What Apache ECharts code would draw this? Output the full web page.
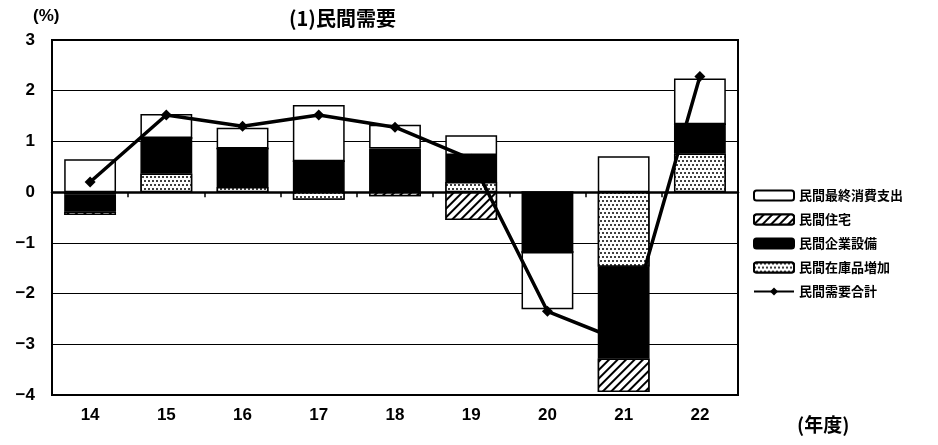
<!DOCTYPE html>
<html>
<head>
<meta charset="utf-8">
<script src="https://cdn.jsdelivr.net/npm/echarts@6/dist/echarts.min.js"></script>
<style>
  html, body { margin: 0; padding: 0; background: #fff; }
</style>
</head>
<body>
<div id="main" style="width: 938px; height: 445px;"></div>
<script>
// 年度
const years = ['14', '15', '16', '17', '18', '19', '20', '21', '22'];
// 寄与度 (%)
const shohi = [0.65, 0.47, 0.41, 1.11, 0.47, 0.39, -1.13, 0.71, 0.90];   // 民間最終消費支出
const jutaku = [-0.07, 0, 0, 0, -0.08, -0.55, 0, -0.66, 0];              // 民間住宅
const setsubi = [-0.34, 0.70, 0.76, 0.61, 0.86, 0.53, -1.18, -1.81, 0.58]; // 民間企業設備
const zaiko = [-0.04, 0.37, 0.10, -0.15, 0, 0.20, 0, -1.47, 0.76];       // 民間在庫品増加
const gokei = [0.2, 1.52, 1.3, 1.52, 1.28, 0.65, -2.35, -2.95, 2.28];    // 民間需要合計
const yTicks = [-4, -3, -2, -1, 0, 1, 2, 3];

const font = '"Liberation Sans", "Noto Sans CJK JP", sans-serif';
const jpFont = '"Noto Sans CJK JP", sans-serif';

const myChart = echarts.init(document.getElementById('main'));

const barBase = {
    type: 'bar',
    stack: 'total',
    barWidth: '68%',
    xAxisIndex: 0,
};

const option = {
    animation: false,
    backgroundColor: '#fff',
    title: [
        {
            text: '(1)民間需要',
            left: 284,
            top: 3,
            textStyle: { fontFamily: jpFont, fontSize: 20, fontWeight: 'bold', color: '#000' },
        },
        {
            text: '(%)',
            left: 28,
            top: 3,
            textStyle: { fontFamily: font, fontSize: 17, fontWeight: 'bold', color: '#000' },
        },
        {
            text: '(年度)',
            left: 792,
            top: 410,
            textStyle: { fontFamily: jpFont, fontSize: 19, fontWeight: 'bold', color: '#000' },
        },
    ],
    legend: {
        orient: 'vertical',
        left: 748,
        top: 184,
        itemWidth: 40,
        itemHeight: 10,
        itemGap: 11,
        data: ['民間最終消費支出', '民間住宅', '民間企業設備', '民間在庫品増加', '民間需要合計'],
        textStyle: { fontFamily: jpFont, fontSize: 13, fontWeight: 'bold', color: '#000' },
    },
    grid: { left: 52, right: 200, top: 40, bottom: 50, show: true, borderColor: '#000', borderWidth: 2 },
    xAxis: [
        {
            type: 'category',
            data: years,
            position: 'bottom',
            axisLine: { onZero: false, lineStyle: { color: '#000', width: 2 } },
            axisTick: { show: false },
            axisLabel: { color: '#000', fontFamily: font, fontSize: 17, fontWeight: 'bold', margin: 12 },
        },
        {
            type: 'category',
            data: years,
            position: 'top',
            axisLine: { onZero: true, lineStyle: { color: '#000', width: 2.5 } },
            axisTick: { show: true, inside: true, length: 5, lineStyle: { color: '#000', width: 1.5 } },
            axisLabel: { show: false },
        },
    ],
    yAxis: {
        type: 'value',
        min: -4,
        max: 3,
        interval: 1,
        axisLine: { show: true, lineStyle: { color: '#000', width: 2 } },
        axisTick: { show: true, inside: true, length: 3, lineStyle: { color: '#000' } },
        axisLabel: {
            color: '#000', fontFamily: font, fontSize: 17, fontWeight: 'bold', margin: 17,
            formatter: (v) => (yTicks.includes(v) ? String(v).replace('-', '−') : ''),
        },
        splitLine: { show: true, lineStyle: { color: '#000', width: 1.2 } },
    },
    series: [
        {
            ...barBase,
            name: '民間在庫品増加',
            data: zaiko,
            itemStyle: {
                color: '#fff',
                borderColor: '#000',
                borderWidth: 1.5,
                decal: {
                    symbol: 'circle',
                    symbolSize: 1,
                    color: '#000',
                    backgroundColor: '#fff',
                    dashArrayX: [[2, 2], [0, 2, 2, 0]],
                    dashArrayY: [2, 2],
                },
            },
        },
        {
            ...barBase,
            name: '民間企業設備',
            data: setsubi,
            itemStyle: { color: '#000', borderColor: '#000', borderWidth: 1.5 },
        },
        {
            ...barBase,
            name: '民間住宅',
            data: jutaku,
            itemStyle: {
                color: '#fff',
                borderColor: '#000',
                borderWidth: 1.5,
                decal: {
                    symbol: 'rect',
                    symbolSize: 1,
                    color: '#000',
                    backgroundColor: '#fff',
                    dashArrayX: [1, 0],
                    dashArrayY: [1.5, 3.5],
                    rotation: -Math.PI / 4,
                },
            },
        },
        {
            ...barBase,
            name: '民間最終消費支出',
            data: shohi,
            itemStyle: { color: '#fff', borderColor: '#000', borderWidth: 1.5 },
        },
        {
            type: 'line',
            name: '民間需要合計',
            data: gokei,
            xAxisIndex: 0,
            z: 5,
            symbol: 'diamond',
            symbolSize: 11,
            itemStyle: { color: '#000' },
            lineStyle: { color: '#000', width: 3.5 },
        },
    ],
};

myChart.setOption(option);
</script>
</body>
</html>
